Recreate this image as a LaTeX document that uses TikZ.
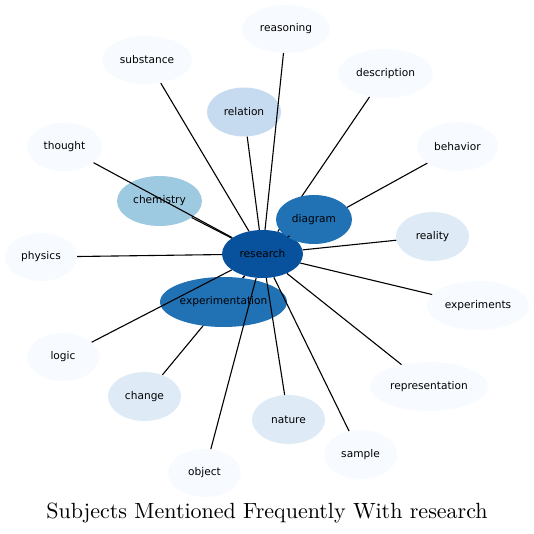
\documentclass[tikz,border=0pt]{standalone}
\usepackage{fontspec}
\newfontfamily\nodefont{DejaVu Sans}
\usetikzlibrary{shapes.geometric}
\pgfdeclarelayer{back}
\pgfsetlayers{back,main}
\definecolor{c0}{HTML}{F7FBFF}
\definecolor{c1}{HTML}{DEEBF7}
\definecolor{c2}{HTML}{C6DBEF}
\definecolor{c3}{HTML}{9ECAE1}
\definecolor{c5}{HTML}{2171B5}
\definecolor{c6}{HTML}{08519C}
\tikzset{
  topic/.style={ellipse, inner sep=0pt, draw=none, text=black,
    font=\nodefont\fontsize{10.6}{12}\selectfont, minimum height=49pt},
  link/.style={draw=black, line width=1.1pt}
}
\begin{document}
\begin{tikzpicture}[x=1pt,y=-1pt]
\useasboundingbox (0,0) rectangle (534,534);
% nodes
\node[topic, fill=c6, minimum width=81pt, minimum height=48pt] (research) at (262.5,254) {research};
\node[topic, fill=c5, minimum width=76pt] (diagram) at (314,219.5) {diagram};
\node[topic, fill=c3, minimum width=85pt, minimum height=50pt] (chemistry) at (159.5,201) {chemistry};
\node[topic, fill=c5, minimum width=127pt, minimum height=50pt] (experimentation) at (223.5,302) {experimentation};
\node[topic, fill=c0, minimum width=90pt, minimum height=48pt] (substance) at (147,60) {substance};
\node[topic, fill=c2, minimum width=74pt] (relation) at (244,112) {relation};
\node[topic, fill=c0, minimum width=75pt] (thought) at (64.5,147) {thought};
\node[topic, fill=c0, minimum width=72pt, minimum height=48pt] (physics) at (41,257) {physics};
\node[topic, fill=c0, minimum width=88pt, minimum height=48pt] (reasoning) at (286,29) {reasoning};
\node[topic, fill=c0, minimum width=95pt] (description) at (385.5,73.5) {description};
\node[topic, fill=c0, minimum width=81pt] (behavior) at (457.5,146.5) {behavior};
\node[topic, fill=c1, minimum width=73pt] (reality) at (432.5,236.5) {reality};
\node[topic, fill=c0, minimum width=72pt, minimum height=48pt] (logic) at (63,357) {logic};
\node[topic, fill=c1, minimum width=73pt] (change) at (144.5,396.5) {change};
\node[topic, fill=c0, minimum width=73pt, minimum height=48pt] (object) at (204.5,473) {object};
\node[topic, fill=c0, minimum width=102pt] (experiments) at (478,305.5) {experiments};
\node[topic, fill=c0, minimum width=118pt] (representation) at (429,386.5) {representation};
\node[topic, fill=c1, minimum width=73pt] (nature) at (288.5,419.5) {nature};
\node[topic, fill=c0, minimum width=73pt] (sample) at (360.5,454.5) {sample};
% edges
\foreach \t in {substance,reasoning,relation,thought,chemistry,physics,diagram,reality,experiments,representation,sample,nature,object,experimentation,logic}
  \draw[link] (research) -- (\t);
\begin{pgfonlayer}{back}
\foreach \t in {description,behavior,change}
  \draw[link] (research) -- (\t);
\end{pgfonlayer}
% title
\node[inner sep=0pt, anchor=base] (title) at (267,518) {\scalebox{2.2}{\fontsize{10}{12}\selectfont Subjects Mentioned Frequently With research}};
\end{tikzpicture}
\end{document}
